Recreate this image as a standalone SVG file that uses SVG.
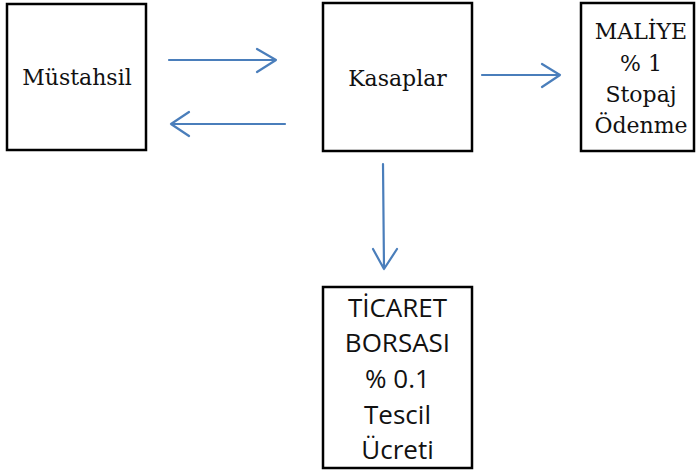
<svg xmlns="http://www.w3.org/2000/svg" width="696" height="471" viewBox="0 0 696 471">
<style>
.box{fill:#fff;stroke:#000;stroke-width:2.5}
.serif{font-family:"DejaVu Serif","Liberation Serif",serif;font-size:22px;fill:#111;text-anchor:middle}
.sans{font-family:"Open Sans","Liberation Sans",sans-serif;font-size:26px;fill:#111;text-anchor:middle}
.conn{fill:none;stroke:#4a7ebb;stroke-width:2.2;stroke-linecap:round;stroke-linejoin:round}
</style>
<rect width="696" height="471" fill="#fff"/>
<g id="mustahsil">
<rect class="box" x="7" y="4" width="139" height="146"/>
<text class="serif" x="77" y="85">Müstahsil</text>
</g>
<g id="kasaplar">
<rect class="box" x="323" y="3" width="149" height="148"/>
<text class="serif" x="397.5" y="86">Kasaplar</text>
</g>
<g id="maliye">
<rect class="box" x="581" y="3" width="113" height="148"/>
<text class="serif" x="641" y="39">MALİYE</text>
<text class="serif" x="641" y="71">% 1</text>
<text class="serif" x="641" y="102">Stopaj</text>
<text class="serif" x="641" y="133">Ödenme</text>
</g>
<g id="ticaret">
<rect class="box" x="323" y="287" width="149" height="181"/>
<text class="sans" x="397.5" y="317">TİCARET</text>
<text class="sans" x="397.5" y="352">BORSASI</text>
<text class="sans" x="397.5" y="388">% 0.1</text>
<text class="sans" x="397.5" y="424">Tescil</text>
<text class="sans" x="397.5" y="459">Ücreti</text>
</g>
<g id="connectors">
<path class="conn" d="M169 60 L276 60 M257 49 L276 60 L257 72"/>
<path class="conn" d="M285 124 L171 124 M189 112 L171 124 L189 136"/>
<path class="conn" d="M482 75 L560 75 M542 64 L560 75 L542 87"/>
<path class="conn" d="M383 164 L384 269 M373 249 L384 269 L397 249"/>
</g>
</svg>
